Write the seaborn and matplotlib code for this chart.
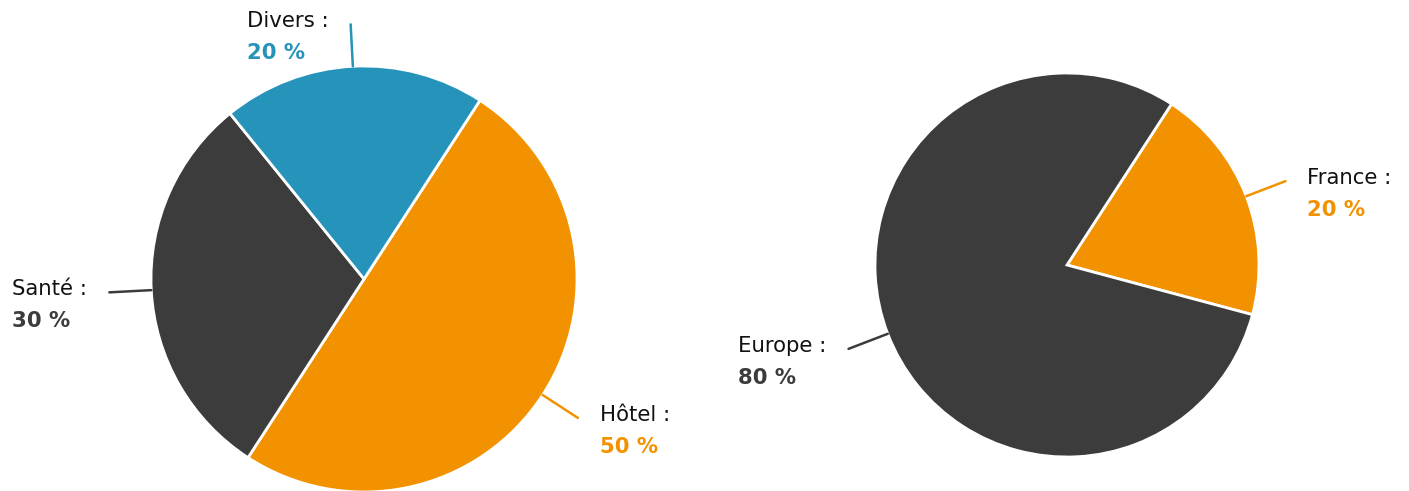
import numpy as np
import seaborn as sns
import matplotlib.pyplot as plt

# données
left_labels = ["Hôtel", "Santé", "Divers"]
left_values = [50, 30, 20]
right_labels = ["France", "Europe"]
right_values = [20, 80]

ORANGE = "#F39200"
DARK = "#3C3C3C"
BLUE = "#2693BA"
left_colors = [ORANGE, DARK, BLUE]
right_colors = [ORANGE, DARK]

sns.set_theme(style="white")
plt.rcParams['font.family'] = ['DejaVu Sans']

W, H = 1409, 491
fig = plt.figure(figsize=(W / 100, H / 100), dpi=100)
renderer = fig.canvas.get_renderer()


def draw_pie(cx, cy, r, labels, values, colors):
    # axe carré en pixels autour du centre
    ax = fig.add_axes([(cx - r) / W, (H - cy - r) / H, 2 * r / W, 2 * r / H])
    wedges, _ = ax.pie(values, colors=colors, startangle=57, counterclock=False,
                       radius=1, wedgeprops=dict(edgecolor="white", linewidth=2))
    ax.set_xlim(-1, 1)
    ax.set_ylim(-1, 1)
    ax.set_aspect("equal")
    ax.axis("off")
    ln = 42 / r
    for w, lab, val, col in zip(wedges, labels, values, colors):
        th = np.deg2rad((w.theta1 + w.theta2) / 2)
        x0, y0 = np.cos(th), np.sin(th)
        x1, y1 = (1 + ln) * x0, (1 + ln) * y0
        ax.plot([x0, x1], [y0, y1], color=col, lw=1.8, clip_on=False)
        # position du bout de trait en pixels (origine en bas)
        px = cx + (1 + ln) * r * x0
        py = (H - cy) + (1 + ln) * r * y0
        ha = "left" if x0 > 0 else "right"
        dx = 22 if x0 > 0 else -22
        t = fig.text(px + dx, py + 3, f"{lab} :", transform=None, ha=ha, va="center",
                     fontsize=15.3, color="#111111")
        bb = t.get_window_extent(renderer=renderer)
        fig.text(bb.x0, py + 3 - 32, f"{val} %", transform=None, ha="left", va="center",
                 fontsize=15.3, fontweight="bold", color=col)


draw_pie(364, 279, 213, left_labels, left_values, left_colors)
draw_pie(1067, 265, 192, right_labels, right_values, right_colors)

plt.savefig("out.png", dpi=100)
